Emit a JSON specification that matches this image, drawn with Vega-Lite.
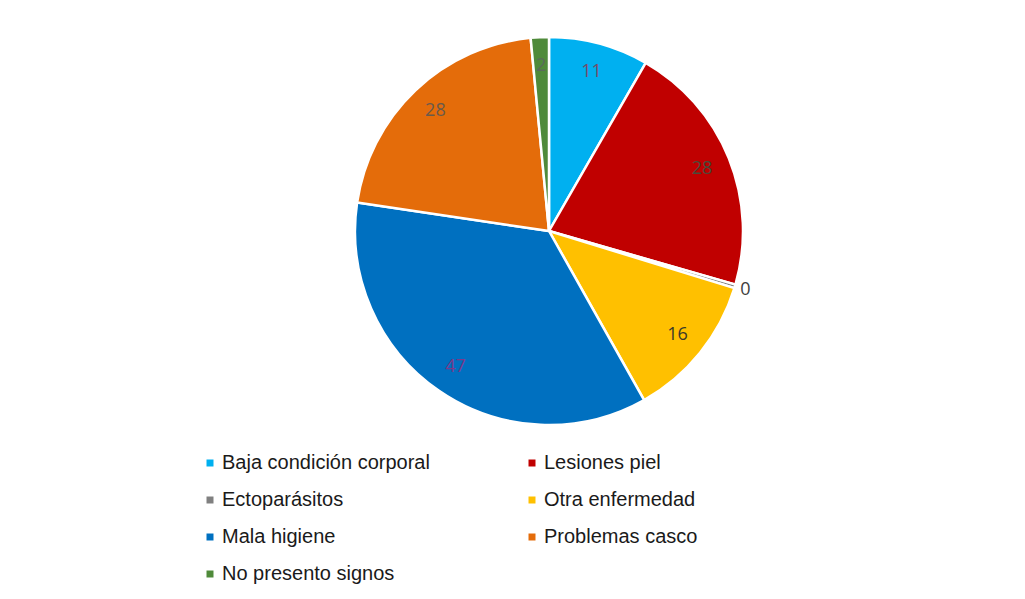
{
  "$schema": "https://vega.github.io/schema/vega-lite/v6.json",
  "autosize": "none",
  "width": 388,
  "height": 388,
  "padding": {"left": 355, "top": 37, "right": 282, "bottom": 174},
  "background": "white",
  "config": {"view": {"stroke": null}, "font": "Liberation Sans"},
  "data": {
    "values": [
      {"orden": 1, "cat": "Baja condición corporal", "value": 11},
      {"orden": 2, "cat": "Lesiones piel", "value": 28},
      {"orden": 3, "cat": "Ectoparásitos", "value": 0.4},
      {"orden": 4, "cat": "Otra enfermedad", "value": 16},
      {"orden": 5, "cat": "Mala higiene", "value": 47},
      {"orden": 6, "cat": "Problemas casco", "value": 28},
      {"orden": 7, "cat": "No presento signos", "value": 2}
    ]
  },
  "encoding": {
    "theta": {"field": "value", "type": "quantitative", "stack": true},
    "order": {"field": "orden", "type": "quantitative"}
  },
  "layer": [
    {
      "mark": {"type": "arc", "stroke": "white", "strokeWidth": 2.5},
      "encoding": {
        "color": {
          "field": "cat",
          "type": "nominal",
          "scale": {
            "domain": ["Baja condición corporal", "Ectoparásitos", "Mala higiene", "No presento signos", "Lesiones piel", "Otra enfermedad", "Problemas casco"],
            "range": ["#00B0F0", "#808080", "#0070C0", "#4F8A3A", "#C00000", "#FFC000", "#E46C0A"]
          },
          "legend": {
            "title": null,
            "orient": "none",
            "legendX": -155,
            "legendY": 416,
            "columns": 2,
            "columnPadding": 92,
            "rowPadding": 17,
            "symbolType": "square",
            "symbolSize": 49,
            "symbolStrokeWidth": 0,
            "labelFontSize": 20,
            "labelFont": "Liberation Sans",
            "labelColor": "#1a1a1a",
            "labelOffset": 2,
            "labelLimit": 400
          }
        }
      }
    },
    {
      "mark": {"type": "text", "radius": 165, "fontSize": 18, "font": "Open Sans"},
      "encoding": {
        "text": {"field": "value", "type": "quantitative", "format": ".0f", "condition": {"test": "datum.cat === 'Ectoparásitos'", "value": ""}},
        "color": {
          "field": "cat",
          "type": "nominal",
          "legend": null,
          "scale": {
            "domain": ["Baja condición corporal", "Lesiones piel", "Ectoparásitos", "Otra enfermedad", "Mala higiene", "Problemas casco", "No presento signos"],
            "range": ["#7a4a66", "#4a4a3a", "#404040", "#3a3a2a", "#7a3a8a", "#6a5a4a", "#5a6a5a"]
          }
        }
      }
    },
    {
      "mark": {"type": "text", "radius": 205, "fontSize": 18, "font": "Open Sans", "color": "#404040"},
      "encoding": {
        "text": {"field": "value", "type": "quantitative", "format": ".0f", "condition": {"test": "datum.cat !== 'Ectoparásitos'", "value": ""}}
      }
    }
  ],
  "resolve": {"scale": {"color": "independent"}}
}
